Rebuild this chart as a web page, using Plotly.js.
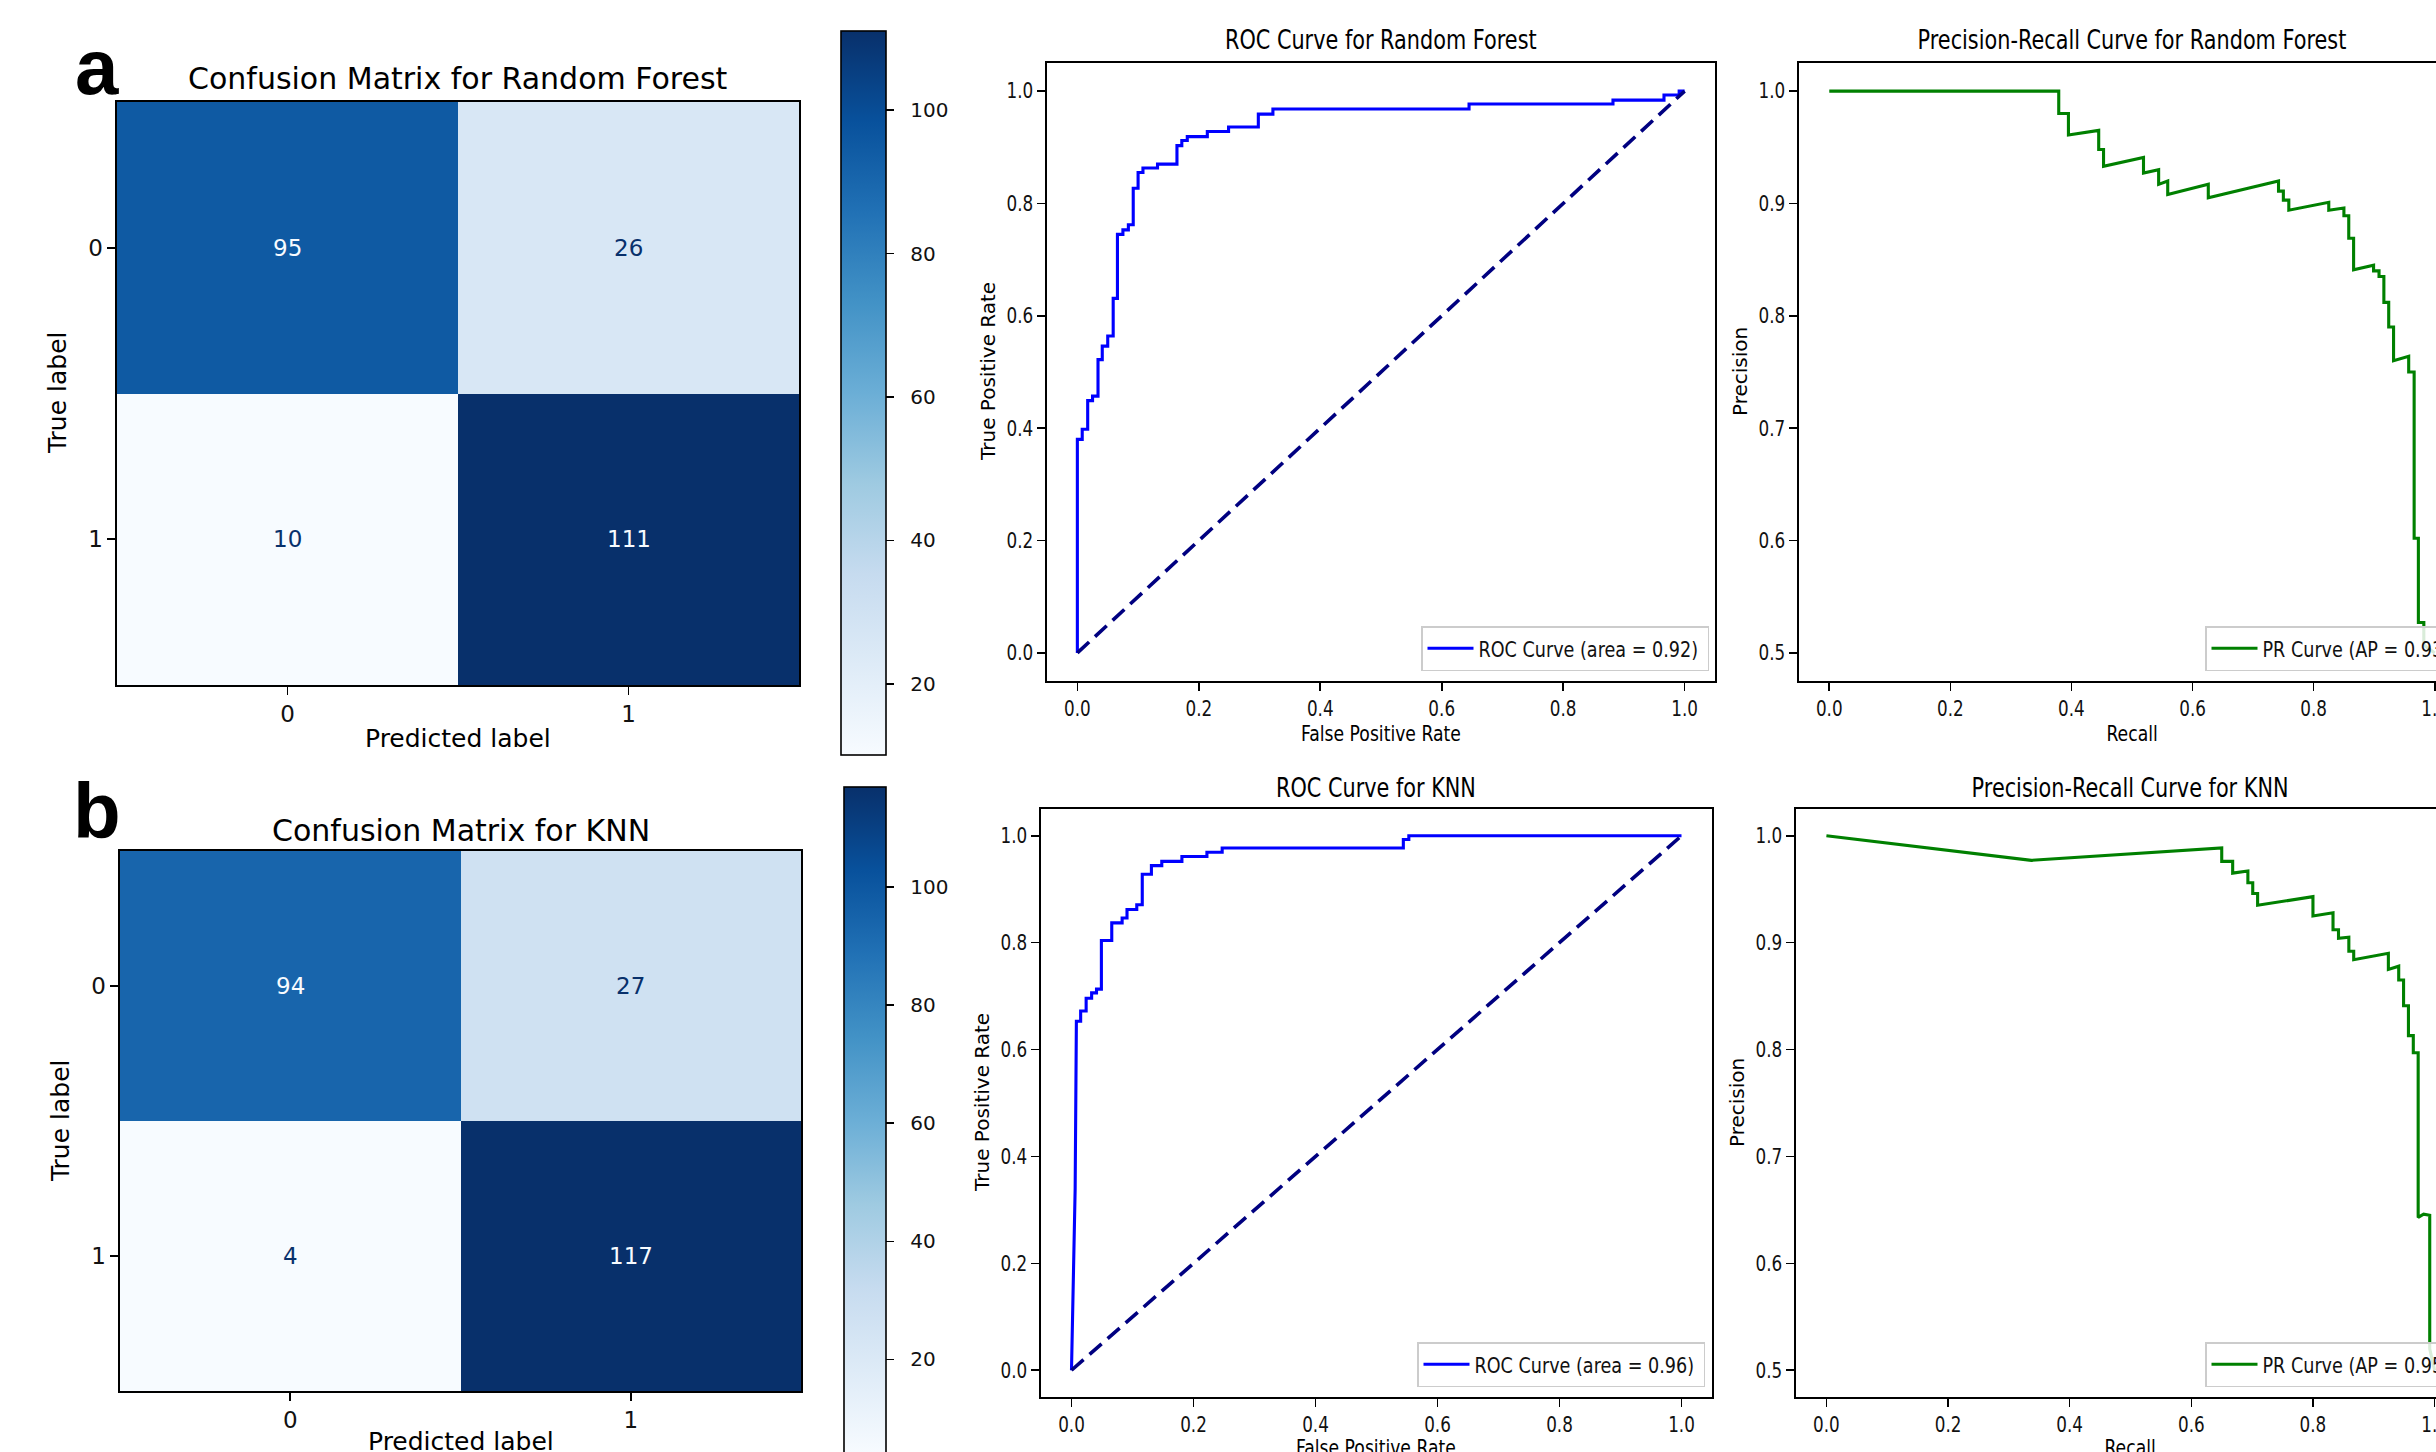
<!DOCTYPE html>
<html><head><meta charset="utf-8">
<script src="https://cdn.plot.ly/plotly-3.0.1.min.js"></script>
<style>
html,body{margin:0;padding:0;overflow:hidden;background:#fff;width:2436px;height:1452px}
#chart{width:2480px;height:1480px}
</style>
</head><body><div id="chart"></div>
<script>
// ---------- data ----------
const cmLabels = [0, 1];
const cmTickText = ['0', '1'];
const cmRf = [[95, 26], [10, 111]];
const cmKnn = [[94, 27], [4, 117]];
const colorbarTicks = [20, 40, 60, 80, 100];
const rateTicks = [0, 0.2, 0.4, 0.6, 0.8, 1.0];
const precisionTicks = [0.5, 0.6, 0.7, 0.8, 0.9, 1.0];

const rocRfFpr = [0, 0, 0.008, 0.008, 0.017, 0.017, 0.025, 0.025, 0.034, 0.034, 0.041, 0.041, 0.050, 0.050, 0.059, 0.059, 0.066, 0.066, 0.075, 0.075, 0.084, 0.084, 0.092, 0.092, 0.100, 0.100, 0.108, 0.108, 0.132, 0.132, 0.164, 0.164, 0.172, 0.172, 0.181, 0.181, 0.214, 0.214, 0.249, 0.249, 0.298, 0.298, 0.322, 0.322, 0.645, 0.645, 0.882, 0.882, 0.966, 0.966, 0.991, 0.991, 1.0];
const rocRfTpr = [0, 0.380, 0.380, 0.398, 0.398, 0.449, 0.449, 0.457, 0.457, 0.522, 0.522, 0.546, 0.546, 0.564, 0.564, 0.631, 0.631, 0.745, 0.745, 0.753, 0.753, 0.762, 0.762, 0.827, 0.827, 0.855, 0.855, 0.863, 0.863, 0.870, 0.870, 0.903, 0.903, 0.912, 0.912, 0.919, 0.919, 0.928, 0.928, 0.936, 0.936, 0.959, 0.959, 0.968, 0.968, 0.977, 0.977, 0.984, 0.984, 0.993, 0.993, 1.0, 1.0];

const rocKnnFpr = [0, 0.006, 0.008, 0.015, 0.015, 0.024, 0.024, 0.033, 0.033, 0.041, 0.041, 0.049, 0.049, 0.066, 0.066, 0.083, 0.083, 0.091, 0.091, 0.107, 0.107, 0.116, 0.116, 0.131, 0.131, 0.148, 0.148, 0.181, 0.181, 0.222, 0.222, 0.247, 0.247, 0.544, 0.544, 0.553, 0.553, 1.0];
const rocKnnTpr = [0, 0.34, 0.653, 0.653, 0.672, 0.672, 0.696, 0.696, 0.706, 0.706, 0.713, 0.713, 0.804, 0.804, 0.837, 0.837, 0.846, 0.846, 0.862, 0.862, 0.871, 0.871, 0.928, 0.928, 0.944, 0.944, 0.952, 0.952, 0.961, 0.961, 0.969, 0.969, 0.977, 0.977, 0.993, 0.993, 1.0, 1.0];

const chance = [0, 1];

const prRfRecall = [0, 0.379, 0.379, 0.395, 0.395, 0.445, 0.445, 0.453, 0.453, 0.519, 0.519, 0.544, 0.544, 0.559, 0.559, 0.626, 0.626, 0.742, 0.742, 0.750, 0.750, 0.759, 0.759, 0.825, 0.825, 0.850, 0.850, 0.858, 0.858, 0.866, 0.866, 0.899, 0.899, 0.908, 0.908, 0.916, 0.916, 0.924, 0.924, 0.932, 0.932, 0.957, 0.957, 0.966, 0.966, 0.973, 0.973, 0.982, 0.982, 1.0];
const prRfPrecision = [1.0, 1.0, 0.980, 0.980, 0.961, 0.965, 0.948, 0.948, 0.933, 0.941, 0.927, 0.930, 0.917, 0.920, 0.908, 0.917, 0.905, 0.920, 0.911, 0.911, 0.903, 0.903, 0.894, 0.901, 0.894, 0.896, 0.889, 0.889, 0.869, 0.869, 0.841, 0.845, 0.840, 0.840, 0.835, 0.835, 0.812, 0.812, 0.790, 0.790, 0.760, 0.764, 0.750, 0.750, 0.602, 0.602, 0.527, 0.527, 0.507, 0.5];

const prKnnRecall = [0, 0.337, 0.650, 0.650, 0.668, 0.668, 0.693, 0.693, 0.701, 0.701, 0.709, 0.709, 0.800, 0.800, 0.833, 0.833, 0.842, 0.842, 0.859, 0.859, 0.867, 0.867, 0.924, 0.924, 0.941, 0.941, 0.949, 0.949, 0.957, 0.957, 0.965, 0.965, 0.973, 0.973, 0.982, 0.992, 0.992, 1.0];
const prKnnPrecision = [1.0, 0.977, 0.9885, 0.976, 0.976, 0.965, 0.967, 0.956, 0.956, 0.946, 0.946, 0.935, 0.943, 0.925, 0.928, 0.912, 0.912, 0.904, 0.905, 0.892, 0.892, 0.884, 0.890, 0.875, 0.878, 0.865, 0.865, 0.841, 0.841, 0.813, 0.813, 0.797, 0.797, 0.643, 0.646, 0.645, 0.52, 0.5];

const rocRfLegend = 'ROC Curve (area = 0.92)';
const rocKnnLegend = 'ROC Curve (area = 0.96)';
const prRfLegend = 'PR Curve (AP = 0.93)';
const prKnnLegend = 'PR Curve (AP = 0.95)';

// ---------- layout helpers ----------
const W = 2480, H = 1480;
const dx = (a, b) => [a / W, b / W];
const dy = (top, bottom) => [1 - bottom / H, 1 - top / H];
const px = v => v / W;
const py = v => 1 - v / H;

const DEJAVU = '"DejaVu Sans", sans-serif';
// same face, but marked so that its texts are squeezed horizontally after drawing
const SQUEEZED = '"DejaVu Sans", "Bitstream Vera Sans", sans-serif';
const SQUEEZE = 0.8;
const BOLD = '"Liberation Sans", Arial, sans-serif';
const LEGEND_SIZE = 22;

const meas = document.createElement('canvas').getContext('2d');
function squeezedWidth(text, size) {
  meas.font = size + 'px "DejaVu Sans"';
  return meas.measureText(text).width * SQUEEZE;
}

const blues = [
  [0.000, '#f7fbff'], [0.125, '#deebf7'], [0.250, '#c6dbef'], [0.375, '#9ecae1'],
  [0.500, '#6baed6'], [0.625, '#4292c6'], [0.750, '#2171b5'], [0.875, '#08519c'], [1.000, '#08306b']
];

function baseAxis(extra) {
  return Object.assign({
    showline: true, mirror: true, linecolor: '#000', linewidth: 1.6,
    ticks: 'outside', ticklen: 8, tickwidth: 1.6, tickcolor: '#000',
    showgrid: false, zeroline: false, fixedrange: true, automargin: false
  }, extra);
}

function cmAxes(n, domX, domY) {
  const s = n === 1 ? '' : String(n);
  return [
    baseAxis({anchor: 'y' + s, domain: domX, range: [-0.5, 1.5], tickvals: cmLabels, ticktext: cmTickText,
      tickfont: {family: DEJAVU, size: 23, color: '#111'}}),
    baseAxis({anchor: 'x' + s, domain: domY, range: [1.5, -0.5], tickvals: cmLabels, ticktext: cmTickText,
      tickfont: {family: DEJAVU, size: 23, color: '#111'}})
  ];
}

function curveAxes(n, domX, domY, yRange, yTicks) {
  const s = String(n);
  return [
    baseAxis({anchor: 'y' + s, domain: domX, range: [-0.05, 1.05], tickvals: rateTicks, tickformat: '.1f',
      tickfont: {family: SQUEEZED, size: 21, color: '#111'}}),
    baseAxis({anchor: 'x' + s, domain: domY, range: yRange, tickvals: yTicks, tickformat: '.1f',
      tickfont: {family: SQUEEZED, size: 21, color: '#111'}})
  ];
}

function heat(z, xa, ya, cb) {
  const flat = z.flat();
  return {
    type: 'heatmap', x: cmLabels, y: cmLabels, z: z, xaxis: xa, yaxis: ya,
    zmin: Math.min(...flat), zmax: Math.max(...flat), colorscale: blues, zsmooth: false,
    hoverinfo: 'skip', showscale: true,
    colorbar: Object.assign({
      xref: 'paper', xanchor: 'left', xpad: 0, yanchor: 'middle', ypad: 0,
      lenmode: 'pixels', thicknessmode: 'pixels',
      outlinewidth: 1.6, outlinecolor: '#000',
      ticks: 'outside', ticklen: 8, tickwidth: 1.6, tickcolor: '#000',
      tickvals: colorbarTicks,
      tickfont: {family: DEJAVU, size: 20, color: '#111'}
    }, cb)
  };
}

function cellNotes(z, xr, yr) {
  const flat = z.flat();
  const thr = (Math.min(...flat) + Math.max(...flat)) / 2;
  const out = [];
  z.forEach((row, i) => row.forEach((v, j) => {
    out.push({xref: xr, yref: yr, x: cmLabels[j], y: cmLabels[i], text: String(v), showarrow: false,
      font: {family: DEJAVU, size: 23, color: v >= thr ? '#f7fbff' : '#08306b'}});
  }));
  return out;
}

function note(text, x, y, size, family, extra) {
  return Object.assign({xref: 'paper', yref: 'paper', x: px(x), y: py(y), text: text, showarrow: false,
    xanchor: 'center', yanchor: 'middle', font: {family: family, size: size, color: '#000'}}, extra || {});
}

// ---------- traces ----------
const traces = [
  heat(cmRf, 'x', 'y', {x: px(841), len: 724, thickness: 45, y: py(393.4)}),
  {type: 'scatter', mode: 'lines', x: rocRfFpr, y: rocRfTpr, xaxis: 'x2', yaxis: 'y2',
    line: {color: '#0000ff', width: 3.1}, name: rocRfLegend, legend: 'legend', hoverinfo: 'skip'},
  {type: 'scatter', mode: 'lines', x: chance, y: chance, xaxis: 'x2', yaxis: 'y2',
    line: {color: '#000080', width: 3.6, dash: '16px,8px'}, showlegend: false, hoverinfo: 'skip'},
  {type: 'scatter', mode: 'lines', x: prRfRecall, y: prRfPrecision, xaxis: 'x3', yaxis: 'y3',
    line: {color: '#008000', width: 3.1}, name: prRfLegend, legend: 'legend2', hoverinfo: 'skip'},
  heat(cmKnn, 'x4', 'y4', {x: px(844), len: 667, thickness: 42, y: py(1120.3)}),
  {type: 'scatter', mode: 'lines', x: rocKnnFpr, y: rocKnnTpr, xaxis: 'x5', yaxis: 'y5',
    line: {color: '#0000ff', width: 3.1}, name: rocKnnLegend, legend: 'legend3', hoverinfo: 'skip'},
  {type: 'scatter', mode: 'lines', x: chance, y: chance, xaxis: 'x5', yaxis: 'y5',
    line: {color: '#000080', width: 3.6, dash: '16px,8px'}, showlegend: false, hoverinfo: 'skip'},
  {type: 'scatter', mode: 'lines', x: prKnnRecall, y: prKnnPrecision, xaxis: 'x6', yaxis: 'y6',
    line: {color: '#008000', width: 3.1}, name: prKnnLegend, legend: 'legend4', hoverinfo: 'skip'}
];

// ---------- layout ----------
const [xa1, ya1] = cmAxes(1, dx(117, 799), dy(102, 685));
const [xa2, ya2] = curveAxes(2, dx(1047, 1715), dy(63, 681), [-0.05, 1.05], rateTicks);
const [xa3, ya3] = curveAxes(3, dx(1799, 2465), dy(63, 681), [0.475, 1.025], precisionTicks);
const [xa4, ya4] = cmAxes(4, dx(120, 801), dy(851, 1391));
const [xa5, ya5] = curveAxes(5, dx(1041, 1712), dy(809, 1397), [-0.05, 1.05], rateTicks);
const [xa6, ya6] = curveAxes(6, dx(1796, 2465), dy(809, 1397), [0.475, 1.025], precisionTicks);

function legendBox(x, y, text) {
  return {x: px(x), y: py(y), xanchor: 'left', yanchor: 'bottom', bgcolor: 'rgba(255,255,255,0.85)',
    bordercolor: '#cccccc', borderwidth: 1.5, itemwidth: 46,
    orientation: 'h', entrywidthmode: 'pixels',
    entrywidth: Math.round(squeezedWidth(text, LEGEND_SIZE) + 4),
    font: {family: SQUEEZED, size: LEGEND_SIZE, color: '#111'}};
}

const annotations = [].concat(
  cellNotes(cmRf, 'x', 'y'),
  cellNotes(cmKnn, 'x4', 'y4'),
  [
    note('<b>a</b>', 73, 67, 78, BOLD, {xanchor: 'left'}),
    note('<b>b</b>', 71, 811, 78, BOLD, {xanchor: 'left'}),
    note('Confusion Matrix for Random Forest', 458, 79, 30, DEJAVU),
    note('Confusion Matrix for KNN', 461, 830, 30, DEJAVU),
    note('Predicted label', 458, 738, 25, DEJAVU),
    note('Predicted label', 461, 1441, 25, DEJAVU),
    note('True label', 57, 393, 25, DEJAVU, {textangle: -90}),
    note('True label', 60, 1121, 25, DEJAVU, {textangle: -90}),
    note('ROC Curve for Random Forest', 1381, 40, 26, SQUEEZED),
    note('ROC Curve for KNN', 1376, 788, 26, SQUEEZED),
    note('Precision-Recall Curve for Random Forest', 2132, 40, 26, SQUEEZED),
    note('Precision-Recall Curve for KNN', 2130, 788, 26, SQUEEZED),
    note('False Positive Rate', 1381, 734, 21.5, SQUEEZED),
    note('False Positive Rate', 1376, 1447, 21.5, SQUEEZED),
    note('Recall', 2132, 734, 21.5, SQUEEZED),
    note('Recall', 2130, 1447, 21.5, SQUEEZED),
    note('True Positive Rate', 988, 372, 20, DEJAVU, {textangle: -90}),
    note('True Positive Rate', 982, 1103, 20, DEJAVU, {textangle: -90}),
    note('Precision', 1740, 372, 20, DEJAVU, {textangle: -90}),
    note('Precision', 1737, 1103, 20, DEJAVU, {textangle: -90})
  ]
);

const layout = {
  width: W, height: H, margin: {l: 0, r: 0, t: 0, b: 0, pad: 0, autoexpand: false},
  paper_bgcolor: '#ffffff', plot_bgcolor: '#ffffff', showlegend: true,
  xaxis: xa1, yaxis: ya1, xaxis2: xa2, yaxis2: ya2, xaxis3: xa3, yaxis3: ya3,
  xaxis4: xa4, yaxis4: ya4, xaxis5: xa5, yaxis5: ya5, xaxis6: xa6, yaxis6: ya6,
  legend: legendBox(1421, 671, rocRfLegend),
  legend2: legendBox(2205, 671, prRfLegend),
  legend3: legendBox(1417, 1387, rocKnnLegend),
  legend4: legendBox(2205, 1387, prKnnLegend),
  annotations: annotations
};

function squeezeTexts(gd) {
  gd.querySelectorAll('text').forEach(t => {
    const st = t.getAttribute('style') || '';
    if (st.indexOf('Bitstream') < 0) return;
    t.removeAttribute('textLength');
    const len = t.getComputedTextLength();
    if (!len) return;
    t.setAttribute('textLength', (len * SQUEEZE).toFixed(2));
    t.setAttribute('lengthAdjust', 'spacingAndGlyphs');
  });
  // colour-bar labels sit a little further from their ticks
  gd.querySelectorAll('g.colorbar text').forEach(t => t.setAttribute('dx', '12'));
}

const gd = document.getElementById('chart');
Plotly.newPlot(gd, traces, layout, {displayModeBar: false, staticPlot: true}).then(() => {
  squeezeTexts(gd);
  gd.on('plotly_afterplot', () => squeezeTexts(gd));
  setTimeout(() => squeezeTexts(gd), 300);
});
</script>
</body></html>
